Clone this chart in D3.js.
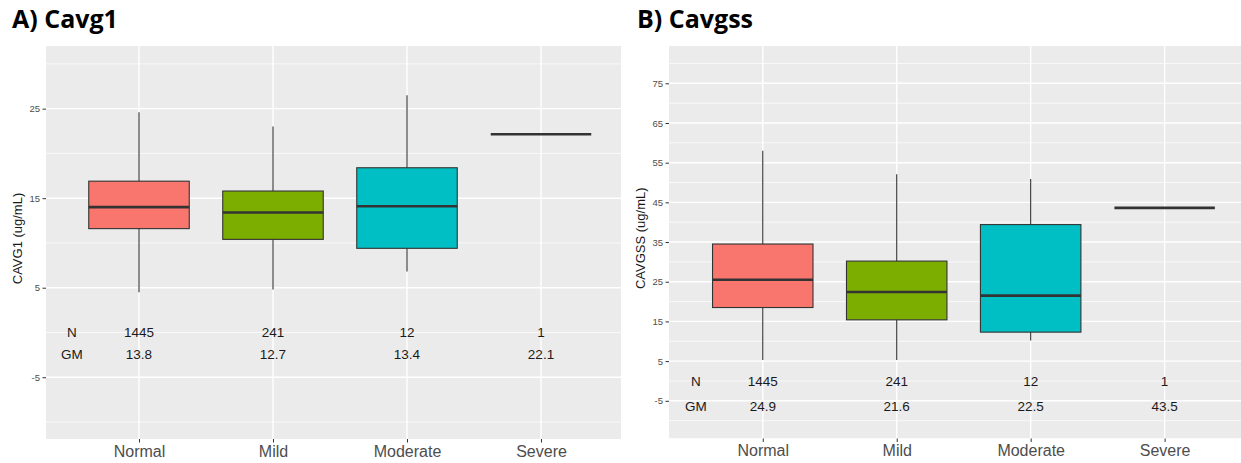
<!DOCTYPE html>
<html>
<head>
<meta charset="utf-8">
<script src="https://cdn.jsdelivr.net/npm/d3@7.9.0/dist/d3.min.js"></script>
<style>
  body { margin: 0; background: #fff; }
  svg { display: block; }
</style>
</head>
<body>
<svg id="chart" width="1241" height="463"></svg>
<script>
// categories + summary stats
const categories = ['Normal', 'Mild', 'Moderate', 'Severe'];
const nCounts = [1445, 241, 12, 1];
const boxColors = ['#F8766D', '#7CAE00', '#00BFC4', '#C77CFF'];

const cavg1Low = [4.5, 4.8, 6.8, 22.15];
const cavg1Q1 = [11.6, 10.4, 9.4, 22.15];
const cavg1Median = [14.0, 13.4, 14.1, 22.15];
const cavg1Q3 = [16.9, 15.8, 18.4, 22.15];
const cavg1High = [24.6, 23.0, 26.5, 22.15];
const cavg1GM = [13.8, 12.7, 13.4, 22.1];
const cavg1Ticks = [-5, 5, 15, 25];
const cavg1Minor = [-10, 0, 10, 20, 30];

const cavgssLow = [5.3, 5.3, 10.2, 43.6];
const cavgssQ1 = [18.5, 15.4, 12.3, 43.6];
const cavgssMedian = [25.5, 22.4, 21.5, 43.6];
const cavgssQ3 = [34.5, 30.2, 39.4, 43.6];
const cavgssHigh = [58.0, 52.1, 50.9, 43.6];
const cavgssGM = [24.9, 21.6, 22.5, 43.5];
const cavgssTicks = [-5, 5, 15, 25, 35, 45, 55, 65, 75];
const cavgssMinor = [-10, 0, 10, 20, 30, 40, 50, 60, 70, 80];

const svg = d3.select('#chart');

function drawPanel(opts) {
  const g = svg.append('g');
  const x = d3.scaleLinear().domain(opts.xDomain).range([opts.left, opts.right]);
  const y = d3.scaleLinear().domain(opts.yDomain).range([opts.bottom, opts.top]);
  const pos = (i) => x(i + 1);
  const half = x(1.375) - x(1);

  // title
  svg.append('text')
    .attr('x', opts.titleX).attr('y', 28)
    .attr('font-family', 'Open Sans, sans-serif')
    .attr('font-weight', 700)
    .attr('font-size', 25)
    .attr('fill', '#000')
    .text(opts.title);

  // panel background
  const clipId = 'clip' + opts.id;
  svg.append('clipPath').attr('id', clipId)
    .append('rect')
    .attr('x', opts.left).attr('y', opts.top)
    .attr('width', opts.right - opts.left).attr('height', opts.bottom - opts.top);

  const p = g.append('g').attr('clip-path', `url(#${clipId})`);
  p.append('rect')
    .attr('x', opts.left).attr('y', opts.top)
    .attr('width', opts.right - opts.left).attr('height', opts.bottom - opts.top)
    .attr('fill', '#EBEBEB');

  // grid
  p.selectAll('.minor').data(opts.minor).enter().append('line')
    .attr('x1', opts.left).attr('x2', opts.right)
    .attr('y1', d => y(d)).attr('y2', d => y(d))
    .attr('stroke', '#fff').attr('stroke-width', 0.7);
  p.selectAll('.major').data(opts.ticks).enter().append('line')
    .attr('x1', opts.left).attr('x2', opts.right)
    .attr('y1', d => y(d)).attr('y2', d => y(d))
    .attr('stroke', '#fff').attr('stroke-width', 1.4);
  p.selectAll('.vmajor').data(categories).enter().append('line')
    .attr('x1', (d, i) => pos(i)).attr('x2', (d, i) => pos(i))
    .attr('y1', opts.top).attr('y2', opts.bottom)
    .attr('stroke', '#fff').attr('stroke-width', 1.4);

  // whiskers
  p.selectAll('.whisk').data(categories).enter().append('line')
    .attr('x1', (d, i) => pos(i)).attr('x2', (d, i) => pos(i))
    .attr('y1', (d, i) => y(opts.low[i])).attr('y2', (d, i) => y(opts.high[i]))
    .attr('stroke', '#333').attr('stroke-width', 1.1);

  // boxes
  p.selectAll('.box').data(categories).enter().append('rect')
    .attr('x', (d, i) => pos(i) - half)
    .attr('width', half * 2)
    .attr('y', (d, i) => y(opts.q3[i]))
    .attr('height', (d, i) => y(opts.q1[i]) - y(opts.q3[i]))
    .attr('fill', (d, i) => boxColors[i])
    .attr('stroke', '#333').attr('stroke-width', 1.1);

  // medians
  p.selectAll('.med').data(categories).enter().append('line')
    .attr('x1', (d, i) => pos(i) - half).attr('x2', (d, i) => pos(i) + half)
    .attr('y1', (d, i) => y(opts.median[i])).attr('y2', (d, i) => y(opts.median[i]))
    .attr('stroke', '#333').attr('stroke-width', 2.6);

  // N / GM annotation
  const ann = p.append('g')
    .attr('font-family', 'Liberation Sans, Arial, sans-serif')
    .attr('font-size', 13.5).attr('fill', '#1a1a1a')
    .attr('text-anchor', 'middle');
  ann.append('text').attr('x', x(0.5)).attr('y', y(opts.nY)).attr('dy', '0.36em').text('N');
  ann.append('text').attr('x', x(0.5)).attr('y', y(opts.gmY)).attr('dy', '0.36em').text('GM');
  ann.selectAll('.n').data(nCounts).enter().append('text')
    .attr('x', (d, i) => pos(i)).attr('y', y(opts.nY)).attr('dy', '0.36em').text(d => d);
  ann.selectAll('.gm').data(opts.gm).enter().append('text')
    .attr('x', (d, i) => pos(i)).attr('y', y(opts.gmY)).attr('dy', '0.36em').text(d => d.toFixed(1));

  // y axis (plain hyphen for negatives, like the original)
  const ya = g.append('g').attr('transform', `translate(${opts.left},0)`)
    .call(d3.axisLeft(y).tickValues(opts.ticks).tickFormat(d => String(d)).tickSize(3.5).tickPadding(2.5));
  ya.select('.domain').remove();
  ya.selectAll('line').attr('stroke', '#333');
  ya.selectAll('text').attr('fill', '#4d4d4d').attr('font-size', 9.5)
    .attr('font-family', 'Liberation Sans, Arial, sans-serif');

  // x axis
  const xa = g.append('g').attr('transform', `translate(0,${opts.bottom})`)
    .call(d3.axisBottom(x).tickValues([1, 2, 3, 4]).tickFormat(d => categories[d - 1]).tickSize(3.5).tickPadding(3));
  xa.select('.domain').remove();
  xa.selectAll('line').attr('stroke', '#333');
  xa.selectAll('text').attr('fill', '#4d4d4d').attr('font-size', 16)
    .attr('font-family', 'Liberation Sans, Arial, sans-serif');

  // y title
  svg.append('text')
    .attr('transform', `translate(${opts.yTitleX},${(opts.top + opts.bottom) / 2 - 4}) rotate(-90)`)
    .attr('text-anchor', 'middle')
    .attr('font-family', 'Liberation Sans, Arial, sans-serif')
    .attr('font-size', 13).attr('fill', '#1a1a1a')
    .attr('dy', '0.35em')
    .text(opts.yTitle);
}

drawPanel({
  id: 'a', title: 'A) Cavg1', titleX: 12,
  left: 46, right: 621, top: 46, bottom: 439,
  xDomain: [0.306, 4.597], yDomain: [-11.9, 32],
  ticks: cavg1Ticks, minor: cavg1Minor,
  low: cavg1Low, q1: cavg1Q1, median: cavg1Median, q3: cavg1Q3, high: cavg1High,
  gm: cavg1GM, nY: 0, gmY: -2.4,
  yTitle: 'CAVG1 (ug/mL)', yTitleX: 17
});

drawPanel({
  id: 'b', title: 'B) Cavgss', titleX: 637,
  left: 669, right: 1245, top: 46, bottom: 438.5,
  xDomain: [0.3, 4.6], yDomain: [-14.5, 84.4],
  ticks: cavgssTicks, minor: cavgssMinor,
  low: cavgssLow, q1: cavgssQ1, median: cavgssMedian, q3: cavgssQ3, high: cavgssHigh,
  gm: cavgssGM, nY: 0, gmY: -6.3,
  yTitle: 'CAVGSS (ug/mL)', yTitleX: 640
});
</script>
</body>
</html>
